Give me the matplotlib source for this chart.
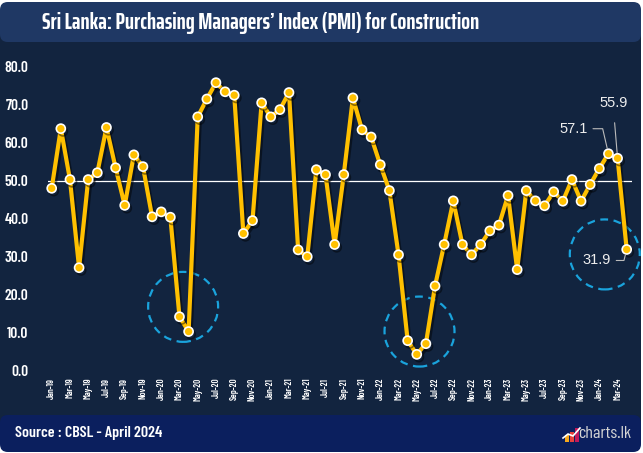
import matplotlib
matplotlib.use("Agg")
import matplotlib.pyplot as plt
import matplotlib.patheffects as pe
from matplotlib.patches import FancyBboxPatch, Rectangle, Ellipse
from matplotlib.lines import Line2D

# ---------------- data ----------------
months = ["Jan", "Feb", "Mar", "Apr", "May", "Jun", "Jul", "Aug", "Sep", "Oct", "Nov", "Dec"]
years = ["19", "20", "21", "22", "23", "24"]
pmi_2019 = [48.0, 63.7, 50.3, 27.1, 50.3, 52.1, 64.0, 53.4, 43.5, 56.8, 53.7, 40.5]
pmi_2020 = [41.8, 40.4, 14.2, 10.3, 66.8, 71.5, 75.8, 73.4, 72.5, 36.1, 39.5, 70.5]
pmi_2021 = [66.8, 68.7, 73.2, 31.8, 30.0, 52.9, 51.6, 33.2, 51.6, 71.8, 63.4, 61.5]
pmi_2022 = [54.2, 47.4, 30.5, 7.9, 4.3, 7.1, 22.3, 33.2, 44.7, 33.2, 30.5, 33.2]
pmi_2023 = [36.8, 38.3, 46.1, 26.6, 47.4, 44.7, 43.4, 47.1, 44.6, 50.3, 44.6, 49.0]
pmi_2024 = [53.2, 57.1, 55.9, 31.9]
pmi = pmi_2019 + pmi_2020 + pmi_2021 + pmi_2022 + pmi_2023 + pmi_2024
labels = [f"{m}-{y}" for y in years for m in months][:len(pmi)]
y_ticks = [0, 10, 20, 30, 40, 50, 60, 70, 80]
threshold = 50
labelled_idx = [61, 62, 63]          # Feb-24, Mar-24, Apr-24
circle_centres = [(14.4, 16.8), (40.3, 10.3), (60.6, 30.6)]  # (month index, value)

title = "Sri Lanka: Purchasing Managers’ Index (PMI) for Construction"
source = "Source : CBSL - April 2024"

# ---------------- style ----------------
W, H = 643, 453
BG = "#12243f"
TITLE_BG = "#1f3864"
FOOT_BG = "#0b1f5e"
GOLD = "#ffc000"
CYAN = "#1aa3dc"
TITLE_FONT = ["Saira ExtraCondensed", "Barlow Condensed", "DejaVu Sans"]
COND = ["Barlow Condensed", "DejaVu Sans"]
REG = ["Liberation Sans", "DejaVu Sans"]

fig = plt.figure(figsize=(W / 100, H / 100), dpi=100, facecolor="white")

def fx(x):
    return x / W

def fy(y):
    return 1 - y / H

# main background
fig.patches.append(Rectangle((0, fy(430)), fx(641), fy(10) - fy(430),
                             transform=fig.transFigure, facecolor=BG, edgecolor="none", zorder=0))
# title bar
fig.patches.append(FancyBboxPatch((fx(0), fy(42)), fx(641), fy(2) - fy(42),
                                  boxstyle="round,pad=0,rounding_size=0.012",
                                  transform=fig.transFigure, facecolor=TITLE_BG,
                                  edgecolor="none", zorder=1, mutation_aspect=W / H))
# footer bar
fig.patches.append(FancyBboxPatch((fx(0), fy(452)), fx(641), fy(415) - fy(452),
                                  boxstyle="round,pad=0,rounding_size=0.012",
                                  transform=fig.transFigure, facecolor=FOOT_BG,
                                  edgecolor="none", zorder=1, mutation_aspect=W / H))

fig.text(fx(42), fy(22.5), title, color="white", fontsize=16.8, fontweight="bold",
         family=TITLE_FONT, ha="left", va="center", zorder=3)
fig.text(fx(15), fy(433), source, color="white", fontsize=11.5, fontweight="semibold",
         family=COND, ha="left", va="center", zorder=3)
fig.text(fx(631), fy(433), "charts.lk", color="#d5d5d5", fontsize=13,
         family=COND, ha="right", va="center", zorder=3)
# small logo
logo_cols = ["#f7a81b", "#e8413c", "#c2185b"]
logo_h = [7, 10, 14]
for i, (c, h) in enumerate(zip(logo_cols, logo_h)):
    fig.patches.append(Rectangle((fx(565 + i * 5), fy(442)), fx(4), fy(442 - h) - fy(442),
                                 transform=fig.transFigure, facecolor=c, edgecolor="none", zorder=3))
fig.lines.append(Line2D([fx(563), fx(568), fx(573), fx(580)], [fy(438), fy(434), fy(436), fy(428)],
                        transform=fig.transFigure, color="white", lw=1.2, zorder=4))

# ---------------- axes ----------------
x_left, x_right = 48, 632
y_top, y_bot = 66.7, 370.7
ax = fig.add_axes([fx(x_left), fy(y_bot), fx(x_right - x_left), (y_bot - y_top) / H])
ax.set_zorder(5)
ax.patch.set_alpha(0)
for s in ax.spines.values():
    s.set_visible(False)

xs = list(range(len(pmi)))
px_per_x = (626.7 - 51.7) / 63
ax.set_xlim(-(51.7 - x_left) / px_per_x, 63 + (x_right - 626.7) / px_per_x)
ax.set_ylim(0, 80)

ax.axhline(threshold, color="white", lw=0.9, zorder=2)

ax.plot(xs, pmi, color=GOLD, lw=3.0, marker="o", markersize=6.5,
        markerfacecolor=GOLD, markeredgecolor="white", markeredgewidth=1.2,
        zorder=4, clip_on=False,
        path_effects=[pe.SimpleLineShadow(offset=(1.5, -2), shadow_color="black", alpha=0.45),
                      pe.Normal()])

ax.set_yticks(y_ticks)
ax.set_yticklabels([f"{v:.1f}" for v in y_ticks])
ax.set_xticks(xs[::2])
ax.set_xticklabels(labels[::2], rotation=90)
ax.tick_params(axis="both", length=0)
ax.tick_params(axis="y", pad=14, labelcolor="white", labelsize=11)
ax.tick_params(axis="x", pad=5, labelcolor="white", labelsize=6.5)
for t in ax.get_yticklabels():
    t.set_family(COND)
    t.set_fontweight("semibold")
for t in ax.get_xticklabels():
    t.set_family(COND)
    t.set_fontweight("semibold")

# dashed circles (35 px radius)
rx = 35 / px_per_x
ry = 35 / ((y_bot - y_top) / 80)
for cx, cy in circle_centres:
    ax.add_patch(Ellipse((cx, cy), 2 * rx, 2 * ry, fill=False, edgecolor=CYAN,
                         lw=1.6, ls=(0, (3.5, 2.5)), zorder=3, clip_on=False))

# value annotations
ann_style = dict(color="#eeeeee", fontsize=10.5, family=REG, textcoords="offset pixels", zorder=6)
i0, i1, i2 = labelled_idx
ax.annotate(f"{pmi[i0]:.1f}", (xs[i0], pmi[i0]), xytext=(-21, 25), ha="right", va="center",
            arrowprops=dict(arrowstyle="-", color="#bbbbbb", lw=0.8, shrinkA=2, shrinkB=4,
                            connectionstyle="angle,angleA=0,angleB=103,rad=0"), **ann_style)
ax.annotate(f"{pmi[i1]:.1f}", (xs[i1], pmi[i1]), xytext=(-4, 55), ha="center", va="center",
            arrowprops=dict(arrowstyle="-", color="#bbbbbb", lw=0.8, shrinkA=7, shrinkB=4,
                            relpos=(0.5, 0)), **ann_style)
ax.annotate(f"{pmi[i2]:.1f}", (xs[i2], pmi[i2]), xytext=(-16, -11), ha="right", va="center",
            arrowprops=dict(arrowstyle="-", color="#bbbbbb", lw=0.8, shrinkA=2, shrinkB=4,
                            connectionstyle="angle,angleA=0,angleB=-104,rad=0"), **ann_style)

fig.savefig("out.png", dpi=100, facecolor="white")
